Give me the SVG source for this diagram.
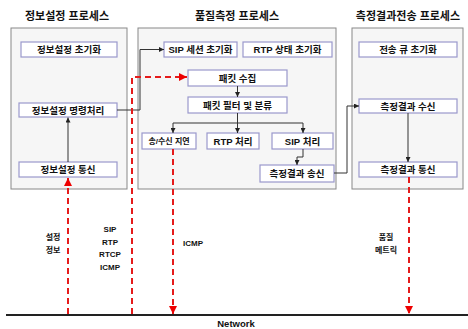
<svg xmlns="http://www.w3.org/2000/svg" width="468" height="329" viewBox="0 0 468 329">
<defs>
<marker id="ab" viewBox="0 0 6 6" refX="6" refY="3" markerWidth="5" markerHeight="5" orient="auto"><path d="M0,0 L6,3 L0,6 z" fill="#222"/></marker>
<marker id="ar" viewBox="0 0 6 6" refX="6" refY="3" markerWidth="4" markerHeight="4" orient="auto"><path d="M0,0 L6,3 L0,6 z" fill="#e00"/></marker>
</defs>
<style>
text{font-family:"Liberation Sans","Noto Sans CJK KR",sans-serif;font-weight:bold;fill:#111;text-anchor:middle}
.t{font-size:11px}
.b{font-size:9.5px}
.l{font-size:8px}
.panel{fill:#f6f6f6;stroke:#888;stroke-width:1}
.box{fill:#fff;stroke:#9a98cc;stroke-width:1.2}
.c{fill:none;stroke:#333;stroke-width:1;marker-end:url(#ab)}
.cn{fill:none;stroke:#333;stroke-width:1}
.r{fill:none;stroke:#e51b1b;stroke-width:2;stroke-dasharray:6,4}
.rm{marker-end:url(#ar)}
</style>
<rect width="468" height="329" fill="#fff"/>
<g id="titles">
<text class="t" x="67" y="20">정보설정 프로세스</text>
<text class="t" x="237" y="20">품질측정 프로세스</text>
<text class="t" x="408" y="20">측정결과전송 프로세스</text>
</g>
<g id="panels">
<rect class="panel" x="11" y="28" width="116" height="161"/>
<rect class="panel" x="138" y="28" width="198" height="161"/>
<rect class="panel" x="352" y="28" width="111" height="161"/>
</g>
<g id="n1"><rect class="box" x="21" y="42" width="96" height="15"/><text class="b" x="69" y="53">정보설정 초기화</text></g>
<g id="n2"><rect class="box" x="19" y="103" width="98" height="14"/><text class="b" x="68" y="113.5">정보설정 명령처리</text></g>
<g id="n3"><rect class="box" x="19" y="162" width="98" height="15"/><text class="b" x="68" y="173">정보설정 통신</text></g>
<g id="n4"><rect class="box" x="164" y="42" width="73" height="15"/><text class="b" x="200.5" y="53">SIP 세션 초기화</text></g>
<g id="n5"><rect class="box" x="243" y="42" width="89" height="15"/><text class="b" x="287.5" y="53">RTP 상태 초기화</text></g>
<g id="n6"><rect class="box" x="188" y="70" width="99" height="16"/><text class="b" x="237.5" y="81.5">패킷 수집</text></g>
<g id="n7"><rect class="box" x="188" y="97" width="99" height="16"/><text class="b" x="237.5" y="108.5">패킷 필터 및 분류</text></g>
<g id="n8"><rect class="box" x="142" y="133" width="54" height="16"/><text class="l" x="169" y="144">송/수신 지연</text></g>
<g id="n9"><rect class="box" x="207" y="133" width="52" height="16"/><text class="b" x="233" y="144.5">RTP 처리</text></g>
<g id="n10"><rect class="box" x="272" y="133" width="61" height="16"/><text class="b" x="302.5" y="144.5">SIP 처리</text></g>
<g id="n11"><rect class="box" x="260" y="165" width="74" height="17"/><text class="b" x="297" y="177">측정결과 송신</text></g>
<g id="n12"><rect class="box" x="359" y="42" width="98" height="15"/><text class="b" x="408" y="53">전송 큐 초기화</text></g>
<g id="n13"><rect class="box" x="359" y="99" width="98" height="14"/><text class="b" x="408" y="109.5">측정결과 수신</text></g>
<g id="n14"><rect class="box" x="359" y="162" width="98" height="15"/><text class="b" x="408" y="173">측정결과 통신</text></g>
<g id="network">
<line x1="6" y1="315" x2="468" y2="315" stroke="#222" stroke-width="2"/>
<text class="b" x="236" y="327">Network</text>
</g>
<g id="connectors">
<line class="c" x1="68" y1="162" x2="68" y2="117.5"/>
<polyline class="c" points="117,110 140,110 140,49.5 164,49.5"/>
<line class="c" x1="237.5" y1="86" x2="237.5" y2="97"/>
<polyline class="cn" points="237.5,113 237.5,123"/>
<line class="cn" x1="173" y1="123" x2="303" y2="123"/>
<line class="c" x1="173" y1="123" x2="173" y2="133"/>
<line class="c" x1="237.5" y1="123" x2="237.5" y2="133"/>
<line class="c" x1="303" y1="123" x2="303" y2="133"/>
<polyline class="c" points="303,149 303,157 297,157 297,165"/>
<polyline class="c" points="334,173 347,173 347,106 359,106"/>
<line class="c" x1="408" y1="113" x2="408" y2="162"/>
<line class="r rm" x1="68" y1="314" x2="68" y2="178"/>
<polyline class="r rm" points="132,314 132,77 187,77"/>
<line class="r rm" x1="173" y1="149" x2="173" y2="314"/>
<line class="r rm" x1="409" y1="177" x2="409" y2="314"/>
</g>
<g id="labels">
<text class="l" x="53" y="240">설정</text>
<text class="l" x="53" y="253">정보</text>
<text class="l" x="110" y="232">SIP</text>
<text class="l" x="110" y="245">RTP</text>
<text class="l" x="110" y="257">RTCP</text>
<text class="l" x="110" y="270">ICMP</text>
<text class="l" x="193" y="246">ICMP</text>
<text class="l" x="386" y="240">품질</text>
<text class="l" x="386" y="253">메트릭</text>
</g>
</svg>
